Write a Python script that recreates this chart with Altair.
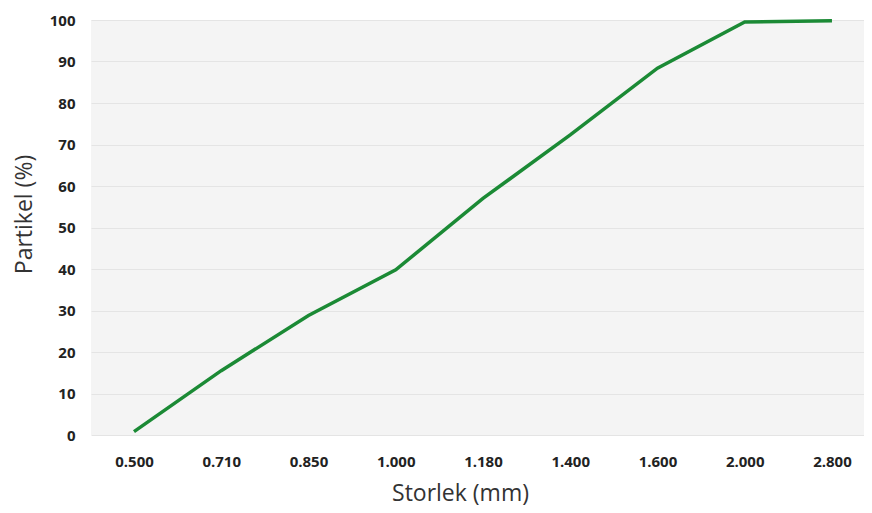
import altair as alt
import pandas as pd

sizes = ["0.500", "0.710", "0.850", "1.000", "1.180", "1.400", "1.600", "2.000", "2.800"]
percent = [0.8, 15.5, 28.8, 39.8, 57.0, 72.3, 88.4, 99.5, 99.8]

df = pd.DataFrame({"size": sizes, "pct": percent})

font = "Open Sans"

line = alt.Chart(df).mark_line(color="#1b8a35", strokeWidth=3.5).encode(
    x=alt.X("size:O", sort=sizes,
            scale=alt.Scale(type="point", padding=0.43, align=0.573),
            axis=alt.Axis(title="Storlek (mm)", labelAngle=0, labelFont=font,
                          labelFontWeight="bold", labelFontSize=15, labelColor="#222",
                          labelPadding=19, ticks=False, domain=False, grid=False,
                          titleFont=font, titleFontWeight="normal", titleFontSize=23,
                          titleColor="#333", titlePadding=13, titleX=369)),
    y=alt.Y("pct:Q",
            scale=alt.Scale(domain=[0, 100], nice=False),
            axis=alt.Axis(title="Partikel (%)", values=list(range(0, 101, 10)),
                          labelFont=font, labelFontWeight="bold", labelFontSize=15,
                          labelColor="#222", labelPadding=16, ticks=False, domain=False,
                          gridColor="#e4e4e4", gridWidth=1,
                          titleFont=font, titleFontWeight="normal", titleFontSize=23,
                          titleColor="#333", titlePadding=13, titleY=194)),
)

chart = line.properties(
    width=773, height=415,
    autosize=alt.AutoSizeParams(type="none"),
    padding={"left": 83, "top": 12, "right": 0, "bottom": 76},
).configure_view(fill="#f4f4f4", stroke=None)

chart.save("out.html", embed_options={"renderer": "svg", "actions": False})
